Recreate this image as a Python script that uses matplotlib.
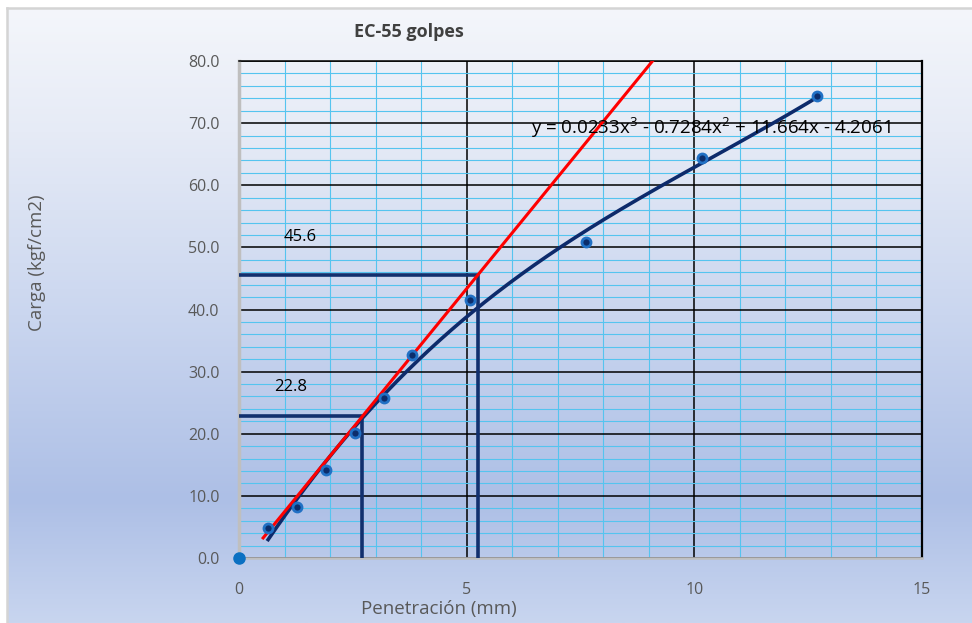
import matplotlib
matplotlib.use("Agg")
import matplotlib.pyplot as plt
import numpy as np
from matplotlib.colors import LinearSegmentedColormap
from matplotlib.lines import Line2D
from matplotlib.ticker import MultipleLocator, FormatStrFormatter

# --- data -------------------------------------------------------------
penetration = [0.64, 1.27, 1.91, 2.54, 3.18, 3.81, 5.08, 7.62, 10.16, 12.70]
load = [4.8, 8.2, 14.2, 20.1, 25.7, 32.7, 41.6, 50.8, 64.4, 74.4]
origin_x = [0.0]
origin_y = [0.0]
poly_coeffs = [0.0233, -0.7284, 11.664, -4.2061]   # cubic trendline
origin_shift = 0.17                                 # corrected zero (mm)
standard_pen = [2.54, 5.08]                         # mm
corrected_load = [22.8, 45.6]                       # kgf/cm2
x_ticks = [0, 5, 10, 15]
y_ticks = [0, 10, 20, 30, 40, 50, 60, 70, 80]

plt.rcParams['font.family'] = ['Open Sans', 'DejaVu Sans']
plt.rcParams['mathtext.fontset'] = 'custom'
plt.rcParams['mathtext.rm'] = 'Open Sans'
plt.rcParams['mathtext.it'] = 'Open Sans'

W, H = 972, 623
fig = plt.figure(figsize=(W / 100, H / 100), dpi=100)

# chart-area gradient fill with a light frame
bg = fig.add_axes([7 / W, 0, 1 - 7 / W, 1 - 8 / H], zorder=-10)
grad = LinearSegmentedColormap.from_list(
    "bgfill",
    [(0.0, "#f4f6fb"), (0.2, "#e6ebf6"), (0.5, "#cad6ef"),
     (0.8, "#adbfe6"), (1.0, "#c8d5ef")])
bg.imshow(np.linspace(0, 1, 256).reshape(-1, 1), aspect="auto", cmap=grad,
          extent=[0, 1, 0, 1])
bg.axis("off")
fig.add_artist(Line2D([7 / W, 7 / W], [0, 1 - 8 / H], transform=fig.transFigure,
                      color="#d4d4d4", lw=1.8))
fig.add_artist(Line2D([7 / W, 1], [1 - 8 / H, 1 - 8 / H], transform=fig.transFigure,
                      color="#d4d4d4", lw=1.8))

ax = fig.add_axes([239 / W, 1 - 558 / H, (922 - 239) / W, (558 - 61) / H])
ax.patch.set_alpha(0)
ax.set_xlim(0, 15)
ax.set_ylim(0, 80)
ax.set_xticks(x_ticks)
ax.set_yticks(y_ticks)
ax.xaxis.set_minor_locator(MultipleLocator(1))
ax.yaxis.set_minor_locator(MultipleLocator(2))
ax.yaxis.set_major_formatter(FormatStrFormatter("%.1f"))
ax.set_axisbelow(True)
ax.grid(which="minor", color="#55c4ef", lw=0.8)
ax.grid(which="major", color="#000000", lw=1.1)
ax.tick_params(which="both", length=0, labelsize=11.5, labelcolor="#595959")
ax.tick_params(axis="x", pad=17)
ax.tick_params(axis="y", pad=14)
ax.spines["left"].set_color("#bfbfbf")
ax.spines["left"].set_linewidth(2.5)
ax.spines["bottom"].set_color("#bfbfbf")
ax.spines["bottom"].set_linewidth(1.8)
ax.spines["top"].set_color("#000000")
ax.spines["top"].set_linewidth(1.1)
ax.spines["right"].set_color("#000000")
ax.spines["right"].set_linewidth(1.6)

# cubic trendline over the measured range
xs = np.linspace(penetration[0], penetration[-1], 300)
ax.plot(xs, np.polyval(poly_coeffs, xs), color="#0d2a6b", lw=2.6, zorder=3)

# corrected straight line through the shifted origin
slope = corrected_load[0] / standard_pen[0]
x_end = origin_shift + 80 / slope
red_x = np.array([0.53, x_end])
ax.plot(red_x, slope * (red_x - origin_shift), color="#ff0000", lw=2.2, zorder=4)

# reading lines for the corrected loads
for p, c in zip(standard_pen, corrected_load):
    xc = p + origin_shift
    ax.plot([0, xc, xc], [c, c, 0], color="#12306e", lw=2.6, zorder=3,
            solid_joinstyle="miter")

ax.text(1.34, 51.7, f"{corrected_load[1]:.1f}", ha="center", va="center",
        fontsize=12, color="#000000")
ax.text(1.14, 27.5, f"{corrected_load[0]:.1f}", ha="center", va="center",
        fontsize=12, color="#000000")

# measured points
ax.plot(penetration, load, "o", ls="none", ms=6.5, mfc="#0c2d6b",
        mec="#2170c4", mew=2, zorder=5)
ax.plot(origin_x, origin_y, "o", ls="none", ms=8, color="#0a70c2",
        clip_on=False, zorder=6)

eq = ("y = 0.0233x$^{3}$ - 0.7284x$^{2}$ + 11.664x - 4.2061")
ax.text(10.36, 69.2, eq, ha="center", va="center", fontsize=13.5, color="#000000",
        zorder=6)

fig.text(409 / W, 1 - 32 / H, "EC-55 golpes", ha="center", va="center",
         fontsize=13, fontweight="bold", color="#404040")
fig.text(37 / W, 1 - 263 / H, "Carga (kgf/cm2)", ha="center", va="center",
         rotation=90, fontsize=13.5, color="#595959")
fig.text(439 / W, 1 - 609 / H, "Penetración (mm)", ha="center", va="center",
         fontsize=13.5, color="#595959")

fig.savefig("out.png", dpi=100)
